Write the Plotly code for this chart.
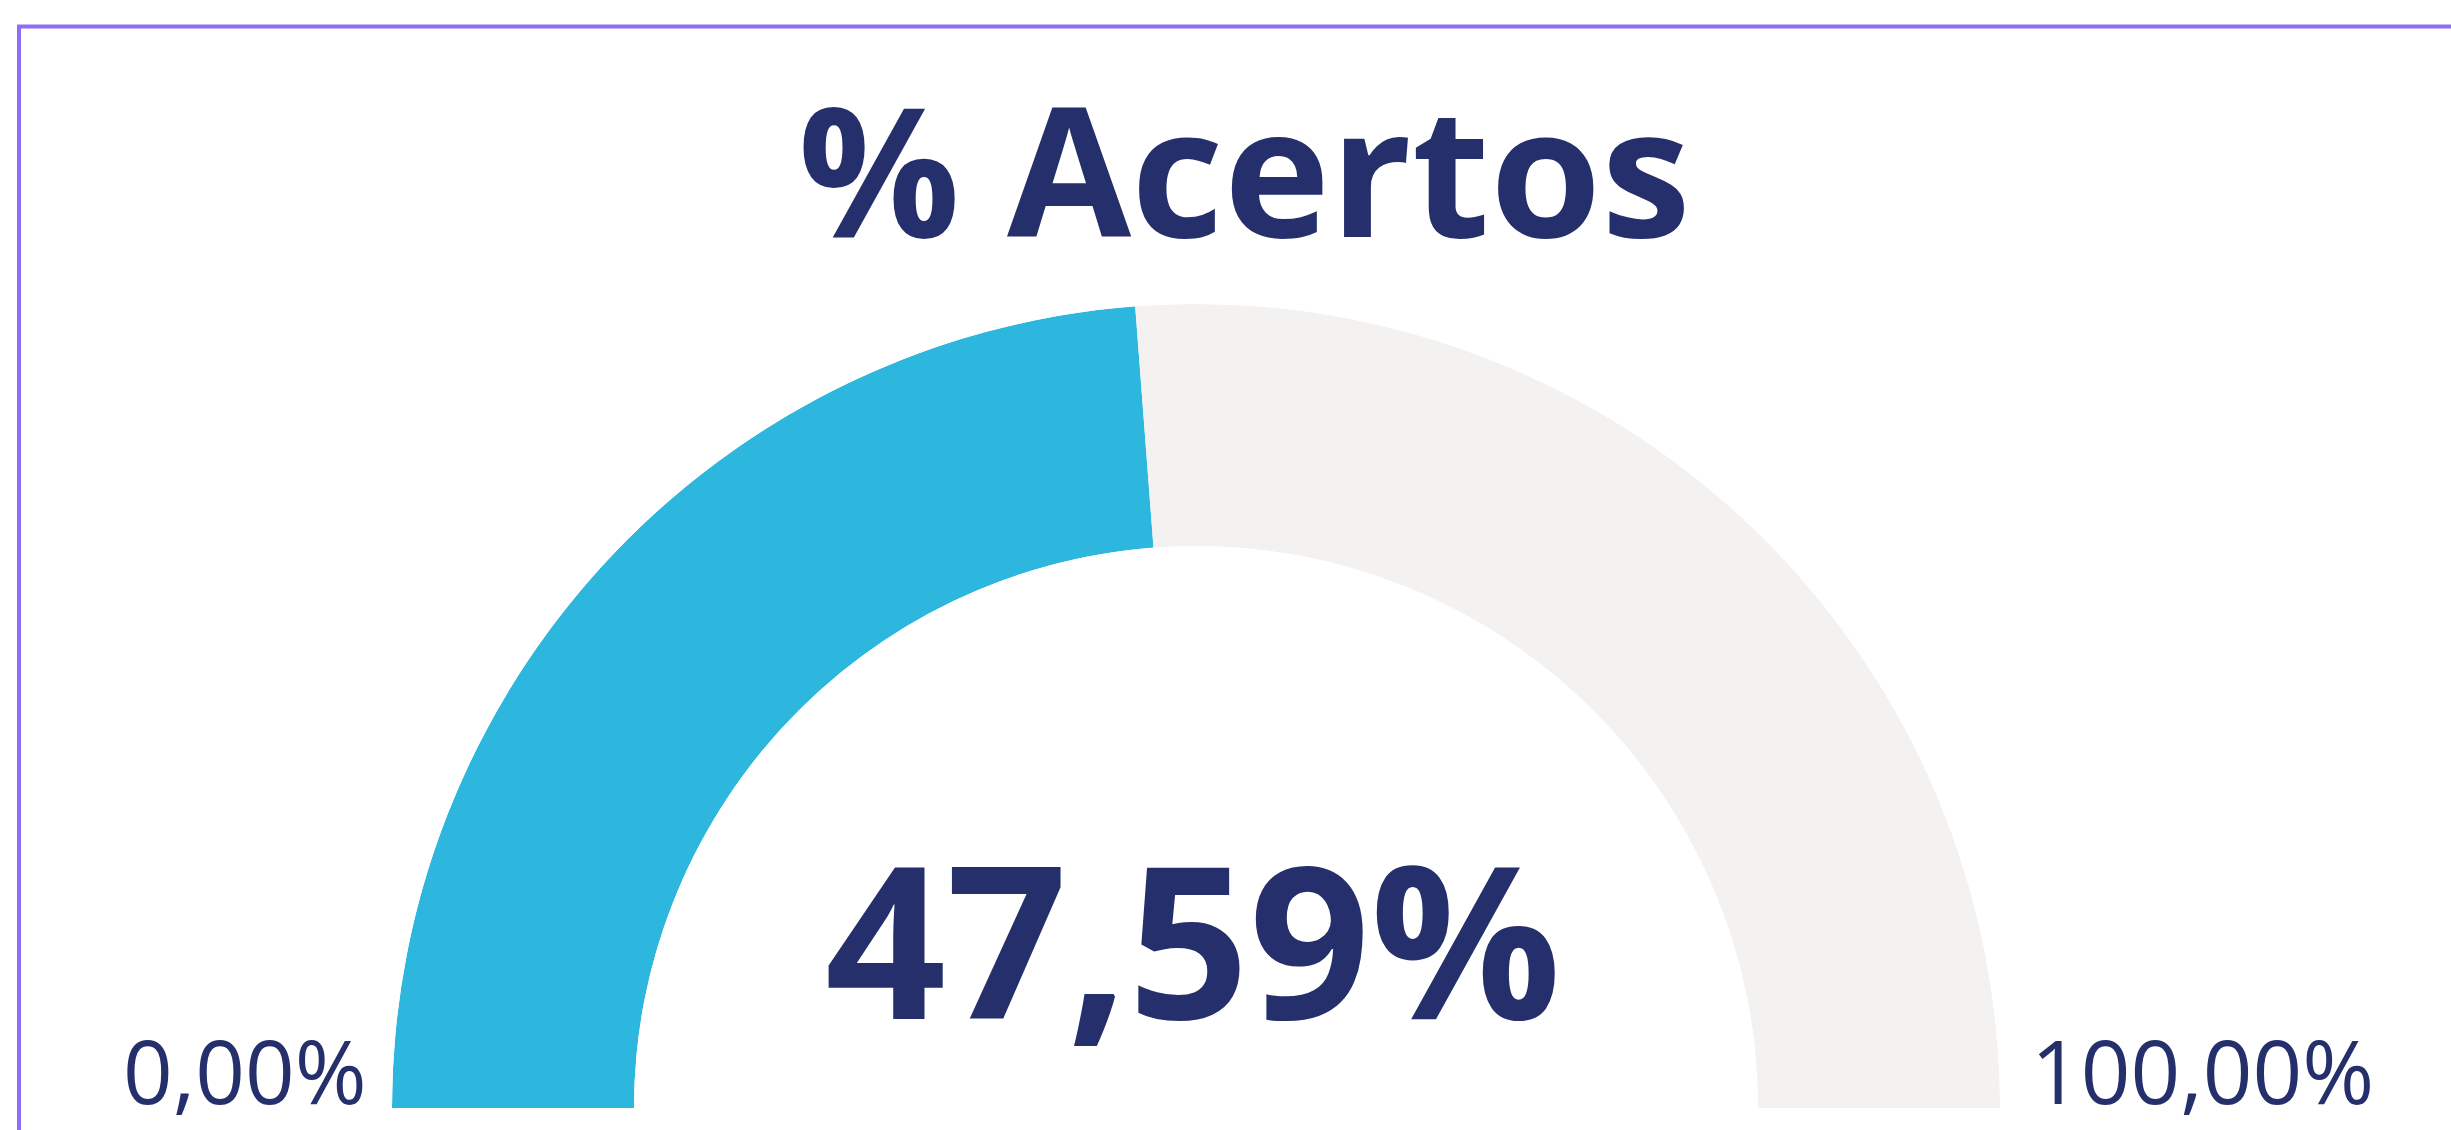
import plotly.graph_objects as go

# ---- data ----
title_text = "% Acertos"
value = 47.59          # % Acertos
min_value = 0.0
max_value = 100.0

def fmt(v):
    return f"{v:.2f}".replace(".", ",") + "%"

value_label = fmt(value)
min_label = fmt(min_value)
max_label = fmt(max_value)

# ---- style ----
W, H = 2451, 1130
NAVY = "#252F6B"
BLUE = "#2DB7DE"
GREY = "#F3F2F1"
BORDER = "#8F6DF6"
FONT = "Open Sans"

span = 180.0
frac = (value - min_value) / (max_value - min_value)
filled = frac * span

fig = go.Figure()
fig.add_trace(go.Barpolar(
    r=[1], base=[0], theta=[filled / 2], width=[filled],
    marker=dict(color=BLUE, line=dict(width=0)), hoverinfo="skip", showlegend=False))
fig.add_trace(go.Barpolar(
    r=[1], base=[0], theta=[(filled + span) / 2], width=[span - filled],
    marker=dict(color=GREY, line=dict(width=0)), hoverinfo="skip", showlegend=False))

# gauge geometry (pixels): centre (1196,1108), outer radius 804, inner 562
cx, cy, R, r_in = 1196, 1108, 804, 562
fig.update_layout(
    width=W, height=H, margin=dict(l=0, r=0, t=0, b=0),
    paper_bgcolor="white", plot_bgcolor="white",
    polar=dict(
        domain=dict(x=[(cx - R) / W, (cx + R) / W], y=[(H - cy) / H, (H - cy + R) / H]),
        sector=[0, 180], hole=r_in / R, bgcolor="rgba(0,0,0,0)",
        radialaxis=dict(range=[0, 1], visible=False, showgrid=False),
        angularaxis=dict(visible=False, showgrid=False, rotation=180,
                         direction="clockwise"),
        bargap=0,
    ),
)

def ann(text, x_px, base_px, size, xanchor, bold=False):
    # place by baseline using Open Sans ascent/descent (1.069/0.293 em)
    center_px = base_px - 0.388 * size
    fig.add_annotation(
        text=text, x=x_px / W, y=(H - center_px) / H, xref="paper", yref="paper",
        xanchor=xanchor, yanchor="middle", showarrow=False,
        font=dict(family=FONT, size=size, color=NAVY, weight=700 if bold else 400))

ann(title_text, 1245, 237, 180, "center", bold=True)
ann(value_label, 1193, 1019, 212, "center", bold=True)
ann(min_label, 369, 1104, 87, "right")
ann(max_label, 2029, 1104, 87, "left")

# frame lines (left and top edge of the visual container)
fig.add_shape(type="line", xref="paper", yref="paper",
              x0=19 / W, x1=19 / W, y0=0, y1=(H - 26.5) / H,
              line=dict(color=BORDER, width=4))
fig.add_shape(type="line", xref="paper", yref="paper",
              x0=17 / W, x1=1, y0=(H - 26.5) / H, y1=(H - 26.5) / H,
              line=dict(color=BORDER, width=4))

fig.write_html("out.html", config={"displayModeBar": False},
               post_script="document.body.style.margin='0';document.body.style.overflow='hidden';")
